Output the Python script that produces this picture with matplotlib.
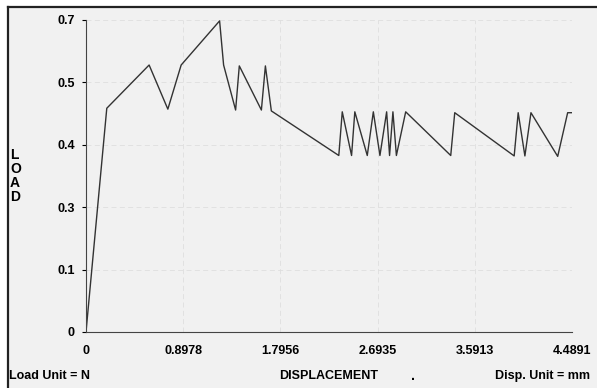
import matplotlib.pyplot as plt
from matplotlib.lines import Line2D
from matplotlib.patches import Rectangle

# displacement (mm) and load (N)
disp = [0, 0.192, 0.583, 0.756, 0.879, 1.234, 1.271, 1.382, 1.416, 1.620,
        1.657, 1.712, 2.335, 2.367, 2.453, 2.483, 2.598, 2.654, 2.715, 2.777,
        2.804, 2.835, 2.867, 2.953, 3.369, 3.406, 3.955, 3.992, 4.054, 4.110,
        4.357, 4.449, 4.489]
load = [0, 0.502, 0.599, 0.500, 0.599, 0.698, 0.599, 0.498, 0.597, 0.498,
        0.597, 0.496, 0.396, 0.494, 0.396, 0.494, 0.396, 0.494, 0.396, 0.494,
        0.396, 0.494, 0.396, 0.494, 0.396, 0.492, 0.395, 0.492, 0.395, 0.492,
        0.394, 0.492, 0.492]

x_ticks = [0, 0.8978, 1.7956, 2.6935, 3.5913, 4.4891]
x_labels = ['0', '0.8978', '1.7956', '2.6935', '3.5913', '4.4891']
y_ticks = [0, 0.14, 0.28, 0.42, 0.56, 0.7]
y_labels = ['0', '0.1', '0.3', '0.4', '0.5', '0.7']

plt.rcParams['font.family'] = 'Liberation Sans'

fig = plt.figure(figsize=(5.97, 3.88), dpi=100, facecolor='white')

# scanned page background with the frame on the left and top
fig.add_artist(Rectangle((8 / 597, 0), 1, 381 / 388, transform=fig.transFigure,
                         facecolor='#f1f1f1', edgecolor='none', zorder=0))
fig.add_artist(Line2D([8 / 597, 8 / 597], [0, 381 / 388], color='#222222', lw=1.6))
fig.add_artist(Line2D([8 / 597, 1], [381 / 388, 381 / 388], color='#222222', lw=1.6))

ax = fig.add_axes([86 / 597, 56 / 388, 486 / 597, 312 / 388])
ax.set_facecolor('none')
ax.plot(disp, load, color='#333333', lw=1.0)

ax.set_xlim(0, 4.4891)
ax.set_ylim(0, 0.7)
ax.set_xticks(x_ticks)
ax.set_xticklabels(x_labels, fontsize=9, fontweight='bold')
ax.set_yticks(y_ticks)
ax.set_yticklabels(y_labels, fontsize=9, fontweight='bold')
ax.tick_params(axis='x', length=0, pad=9)
ax.tick_params(axis='y', length=3, width=0.8, pad=5)

ax.grid(True, linestyle=(0, (6, 4)), color='#dedede', lw=0.6)
ax.spines['top'].set_visible(False)
ax.spines['right'].set_visible(False)
ax.spines['left'].set_color('#444444')
ax.spines['bottom'].set_color('#444444')

fig.text(10 / 597, 212 / 388, 'L\nO\nA\nD', fontsize=10, fontweight='bold',
         ha='left', va='center', linespacing=1.0)
fig.text(9 / 597, 6 / 388, 'Load Unit = N', fontsize=9, fontweight='bold',
         ha='left', va='bottom')
fig.text(329 / 597, 6 / 388, 'DISPLACEMENT', fontsize=9, fontweight='bold',
         ha='center', va='bottom')
fig.text(413 / 597, 5 / 388, '.', fontsize=10, fontweight='bold',
         ha='center', va='bottom')
fig.text(590 / 597, 6 / 388, 'Disp. Unit = mm', fontsize=9, fontweight='bold',
         ha='right', va='bottom')

fig.savefig('out.png', dpi=100)
